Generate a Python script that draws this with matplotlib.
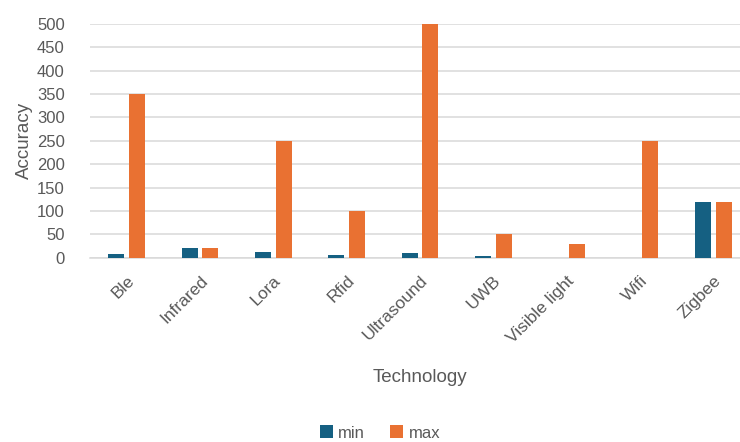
import numpy as np
import matplotlib
matplotlib.use("Agg")
import matplotlib.pyplot as plt

technologies = ["Ble", "Infrared", "Lora", "Rfid", "Ultrasound", "UWB",
                "Visible light", "Wifi", "Zigbee"]
min_acc = [8, 20, 13, 5, 10, 4, 0, 0, 120]
max_acc = [350, 20, 250, 100, 500, 50, 30, 250, 120]

plt.rcParams['font.family'] = ['Liberation Sans', 'DejaVu Sans']
txt = "#595959"

fig = plt.figure(figsize=(7.4, 4.42), dpi=100)
ax = fig.add_axes([0.1214, 0.417, 0.892, 0.529])

x = np.arange(len(technologies))
w = 0.218
off = 0.141
ax.bar(x - off, min_acc, w, color="#156082", label="min", zorder=3)
ax.bar(x + off, max_acc, w, color="#E97132", label="max", zorder=3)

ax.set_xlim(-0.5, len(technologies) - 0.5)
ax.set_ylim(0, 500)
ax.set_yticks(range(0, 501, 50))
ax.yaxis.grid(True, color="#d9d9d9", linewidth=1.1, zorder=0)
ax.set_axisbelow(True)
for s in ["top", "right", "left"]:
    ax.spines[s].set_visible(False)
ax.spines["bottom"].set_color("#d9d9d9")
ax.spines["bottom"].set_linewidth(1.1)

ax.tick_params(axis="both", length=0, colors=txt, labelsize=12)
ax.tick_params(axis="y", pad=18)
ax.set_xticks(x)
ax.set_xticklabels(technologies, rotation=45, ha="right", rotation_mode="anchor")
ax.tick_params(axis="x", pad=11, labelsize=12.5)

ax.set_ylabel("Accuracy", color=txt, fontsize=13.5, labelpad=3)
ax.set_xlabel("Technology", color=txt, fontsize=13.5, labelpad=17)

fig.legend(loc="center", bbox_to_anchor=(380 / 740, 1 - 433 / 442), ncol=2,
           frameon=False, fontsize=12, labelcolor=txt, handlelength=0.8,
           handleheight=0.8, handletextpad=0.3, columnspacing=1.5)

fig.savefig("out.png", dpi=100)
